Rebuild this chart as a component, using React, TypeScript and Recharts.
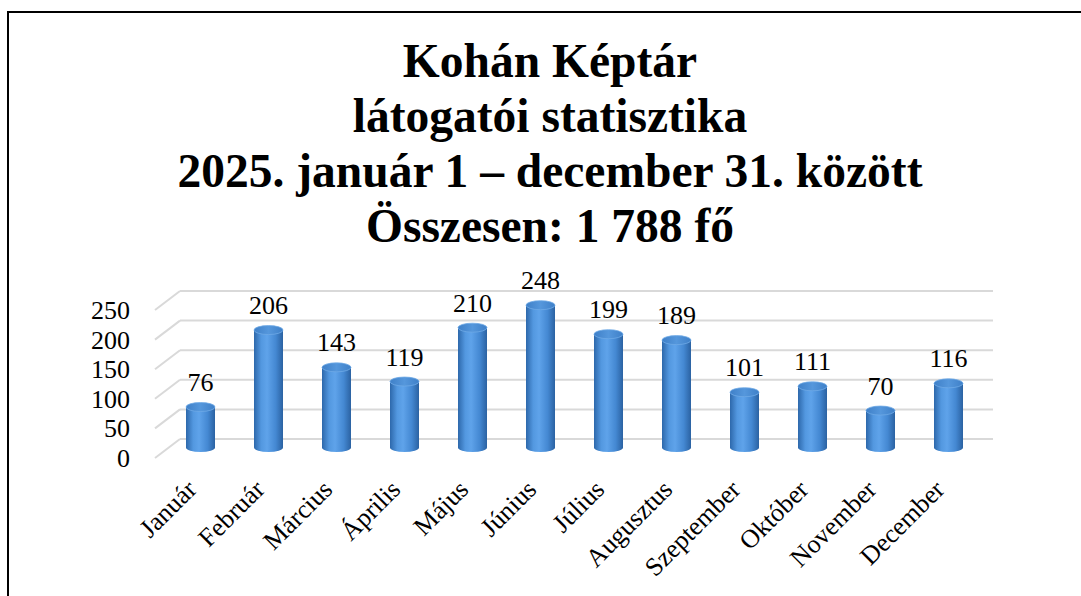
import React from "react";
import { BarChart, Bar, XAxis, YAxis, CartesianGrid, LabelList } from "recharts";

const months = [
  "Január", "Február", "Március", "Április", "Május", "Június",
  "Július", "Augusztus", "Szeptember", "Október", "November", "December",
];
const visitors = [76, 206, 143, 119, 210, 248, 199, 189, 101, 111, 70, 116];
const yTicks = [0, 50, 100, 150, 200, 250];
const titleLines = [
  "Kohán Képtár",
  "látogatói statisztika",
  "2025. január 1 – december 31. között",
  "Összesen: 1 788 fő",
];

const data = months.map((m, i) => ({ month: m, value: visitors[i] }));

const FONT = "'Liberation Serif', 'Times New Roman', serif";
const GRID = "#d9d9d9";

const GridLine = (props: any) => {
  const { x1, x2, y1 } = props;
  const by = y1 - 13;
  return (
    <g>
      <line x1={x1 - 11} y1={y1 + 6} x2={x1 + 14} y2={by} stroke={GRID} strokeWidth={2} />
      <line x1={x1 + 14} y1={by} x2={x2 + 11} y2={by} stroke={GRID} strokeWidth={2} />
    </g>
  );
};

const Cylinder = (props: any) => {
  const { x, y, width, height } = props;
  if (height == null || width == null) return null;
  const rx = width / 2;
  const ry = 4.5;
  const cx = x + rx;
  const bottom = y + height - ry;
  return (
    <g>
      <path
        d={`M${x},${y} L${x},${bottom} A${rx},${ry} 0 0 0 ${x + width},${bottom} L${x + width},${y} Z`}
        fill="url(#cylBody)"
      />
      <ellipse cx={cx} cy={y} rx={rx} ry={ry} fill="url(#cylTop)" stroke="#6ea9e6" strokeWidth={0.8} />
    </g>
  );
};

const YTick = (props: any) => {
  const { x, y, payload } = props;
  return (
    <text x={x - 36} y={y + 15} textAnchor="end" fontFamily={FONT} fontSize={26} fill="#000">
      {payload.value}
    </text>
  );
};

const XTick = (props: any) => {
  const { x, y, payload } = props;
  const ax = x - 2;
  const ay = y + 39;
  return (
    <text
      x={ax}
      y={ay}
      textAnchor="end"
      fontFamily={FONT}
      fontSize={26}
      fill="#000"
      transform={`rotate(-45 ${ax} ${ay})`}
    >
      {payload.value}
    </text>
  );
};

const ValueLabel = (props: any) => {
  const { x, y, width, value } = props;
  return (
    <text x={x + width / 2} y={y - 16} textAnchor="middle" fontFamily={FONT} fontSize={26} fill="#000">
      {value}
    </text>
  );
};

export default function App() {
  return (
    <div style={{ position: "absolute", left: 0, top: 0, width: 1081, height: 596, background: "#fff" }}>
      <BarChart
        width={1081}
        height={596}
        data={data}
        margin={{ top: 304, right: 99, bottom: 4, left: 106 }}
      >
        <defs>
          <linearGradient id="cylBody" x1="0" y1="0" x2="1" y2="0">
            <stop offset="0%" stopColor="#2d68ab" />
            <stop offset="25%" stopColor="#5398e0" />
            <stop offset="45%" stopColor="#5fa3ea" />
            <stop offset="75%" stopColor="#4488d2" />
            <stop offset="100%" stopColor="#2b62a2" />
          </linearGradient>
          <linearGradient id="cylTop" x1="0" y1="0" x2="1" y2="0">
            <stop offset="0%" stopColor="#3f80c8" />
            <stop offset="50%" stopColor="#5597dc" />
            <stop offset="100%" stopColor="#3f80c8" />
          </linearGradient>
        </defs>
        <CartesianGrid vertical={false} horizontal={(p: any) => <GridLine {...p} />} />
        <XAxis
          dataKey="month"
          axisLine={false}
          tickLine={false}
          tickSize={0}
          tickMargin={0}
          height={140}
          interval={0}
          tick={<XTick />}
        />
        <YAxis
          domain={[0, 250]}
          ticks={yTicks}
          axisLine={false}
          tickLine={false}
          tickSize={0}
          tickMargin={0}
          width={60}
          tick={<YTick />}
        />
        <Bar dataKey="value" barSize={29} shape={<Cylinder />} isAnimationActive={false}>
          <LabelList dataKey="value" content={<ValueLabel />} />
        </Bar>
      </BarChart>
      <svg
        width={1081}
        height={596}
        style={{ position: "absolute", left: 0, top: 0, pointerEvents: "none" }}
      >
        <line x1={8} y1={12} x2={1081} y2={12} stroke="#000" strokeWidth={2} />
        <line x1={8} y1={11} x2={8} y2={596} stroke="#000" strokeWidth={2} />
        {titleLines.map((t, i) => (
          <text
            key={t}
            x={550}
            y={77 + i * 55}
            textAnchor="middle"
            fontFamily={FONT}
            fontWeight="bold"
            fontSize={47.5}
            fill="#000"
          >
            {t}
          </text>
        ))}
      </svg>
    </div>
  );
}
